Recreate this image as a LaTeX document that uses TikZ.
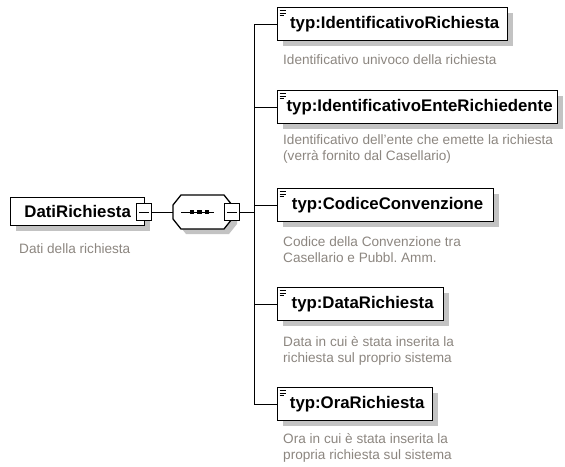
\documentclass[tikz,border=0pt]{standalone}
\usepackage{fontspec}
\setmainfont{Liberation Sans}
\usetikzlibrary{shadows}
\frenchspacing
\definecolor{desctext}{RGB}{140,134,128}
\definecolor{shade}{RGB}{195,195,195}
\tikzset{
  el/.style={draw, line width=1.3pt, fill=white, rectangle, inner sep=0pt,
    minimum height=33pt, font=\fontsize{16.8}{18}\selectfont\bfseries,
    drop shadow={shadow xshift=5pt, shadow yshift=-5pt, fill=shade, opacity=1},
    anchor=north west},
  minusbox/.style={draw, fill=white, line width=0.8pt, rectangle, inner sep=0pt,
    minimum width=15pt, minimum height=17pt},
  seqshape/.style={draw, fill=white, line width=1.3pt,
    drop shadow={shadow xshift=5pt, shadow yshift=-5pt, fill=shade, opacity=1}},
  desc/.style={anchor=north west, inner sep=0pt, align=left, text=desctext,
    font=\fontsize{13.6}{16.5}\selectfont},
  conn/.style={draw, line width=0.9pt}
}
\begin{document}
\begin{tikzpicture}[x=1pt,y=-1pt]
\useasboundingbox (0,0) rectangle (565,466);
% root
\node[el, minimum width=134pt, minimum height=28pt] (root) at (10,197) {DatiRichiesta};
\node[desc] (rootd) at (19,243) {Dati della richiesta};
\node[minusbox] (rm) at (144,212) {};
\draw[line width=0.8pt] ([xshift=3pt]rm.west) -- ([xshift=-3pt]rm.east);
% sequence
\path[seqshape] (181,195) -- (224,195) -- (232,205) -- (232,219) -- (224,229)
  -- (181,229) -- (173,219) -- (173,205) -- cycle;
\node[inner sep=0pt, minimum width=59pt, minimum height=34pt] (seq) at (202.5,212) {};
\draw[line width=1pt] (181,212) -- (214,212);
\foreach \xx in {192,199.5,207} \fill (\xx-2.2,209.8) rectangle (\xx+2.2,214.2);
\node[minusbox] (sm) at (232,212) {};
\draw[line width=0.8pt] ([xshift=3pt]sm.west) -- ([xshift=-3pt]sm.east);
\draw[conn] (rm.east) -- (seq.west);
% children
\node[el, minimum width=230pt] (c1) at (277,7) {\hspace*{4pt}typ:IdentificativoRichiesta};
\node[el, minimum width=280pt] (c2) at (277,90) {\hspace*{4pt}typ:IdentificativoEnteRichiedente};
\node[el, minimum width=216pt] (c3) at (277,188) {\hspace*{4pt}typ:CodiceConvenzione};
\node[el, minimum width=166pt] (c4) at (277,287) {\hspace*{4pt}typ:DataRichiesta};
\node[el, minimum width=155pt] (c5) at (277,387) {\hspace*{4pt}typ:OraRichiesta};
\foreach \i in {1,...,5} {
  \draw[line width=0.9pt, shift={(c\i.north west)}] (2.5,3.5) -- (9,3.5) (2.5,6) -- (9,6) (2.5,8.5) -- (7,8.5);
}
\node[desc] (d1) at (283,54) {Identificativo univoco della richiesta};
\node[desc] (d2) at (283,134) {Identificativo dell'ente che emette la richiesta\\(verrà fornito dal Casellario)};
\node[desc] (d3) at (283,236) {Codice della Convenzione tra\\Casellario e Pubbl. Amm.};
\node[desc] (d4) at (283,336) {Data in cui è stata inserita la\\richiesta sul proprio sistema};
\node[desc] (d5) at (283,433) {Ora in cui è stata inserita la\\propria richiesta sul sistema};
% connectors
\coordinate (bus) at (254,212);
\draw[conn] (sm.east) -- (bus);
\draw[conn] (bus |- c1.west) -- (bus |- c5.west);
\foreach \i in {1,...,5} \draw[conn] (bus |- c\i.west) -- (c\i.west);
\end{tikzpicture}
\end{document}
